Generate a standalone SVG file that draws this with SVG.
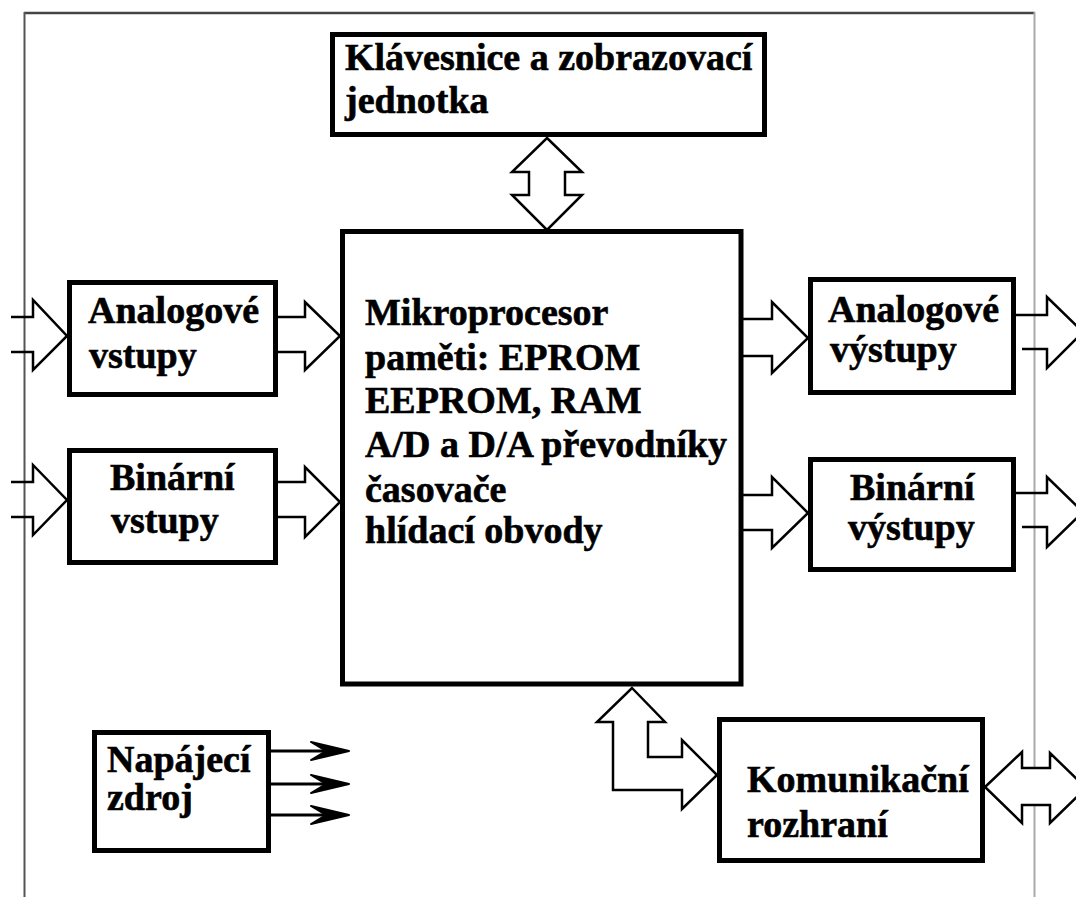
<svg xmlns="http://www.w3.org/2000/svg" width="1076" height="897" viewBox="0 0 1076 897">
<style>
.box{fill:#fff;stroke:#000;stroke-width:5}
.t{font-family:"Liberation Serif","Times New Roman",serif;font-weight:bold;font-size:38px;fill:#000;stroke:#000;stroke-width:0.6}
.ar{fill:none;stroke:#000;stroke-width:2.5;stroke-linejoin:miter}
.arf{fill:#fff;stroke:#000;stroke-width:2.5}
.pw{fill:none;stroke:#000;stroke-width:3}
.pwh{fill:#000;stroke:#000;stroke-width:2;stroke-linejoin:round}
</style>
<rect x="0" y="0" width="1076" height="897" fill="#fff"/>
<g id="frame">
<line x1="24" y1="13" x2="1035" y2="13" stroke="#444" stroke-width="2.5"/>
<line x1="24.5" y1="12" x2="24.5" y2="897" stroke="#555" stroke-width="2"/>
<line x1="1034.5" y1="12" x2="1034.5" y2="897" stroke="#aaa" stroke-width="2"/>
</g>
<g id="connectors">
<polygon class="arf" points="547,138 582,172 565,172 565,195 582,195 547,230 512,195 529,195 529,172 512,172"/>
<polyline class="ar" points="11,317 33,317 33,300 67,336 33,370 33,352 11,352"/>
<polyline class="ar" points="278,317 305,317 305,302 340,336 305,370 305,352 278,352"/>
<polyline class="ar" points="11,482 33,482 33,465 67,500 33,535 33,517 11,517"/>
<polyline class="ar" points="278,482 305,482 305,467 340,502 305,537 305,517 278,517"/>
<polyline class="ar" points="742,319 772,319 772,302 808,338 772,373 772,356 742,356"/>
<polyline class="ar" points="1016,315 1047,315 1047,297 1083,332 1047,368 1047,349 1022,349"/>
<polyline class="ar" points="742,495 772,495 772,477 808,513 772,548 772,530 742,530"/>
<polyline class="ar" points="1016,493 1047,493 1047,477 1083,512 1047,547 1047,527 1022,527"/>
<polygon class="arf" points="632,688 665,722 648,722 648,757 682,757 682,740 717,775 682,809 682,790 613,790 613,722 597,722"/>
<polygon class="arf" points="985,787 1022,752 1022,768 1050,768 1050,753 1086,788 1050,823 1050,805 1022,805 1022,823"/>
<line class="pw" x1="271" y1="751" x2="340" y2="751"/>
<line class="pw" x1="271" y1="784" x2="340" y2="784"/>
<line class="pw" x1="271" y1="815" x2="340" y2="815"/>
<polygon class="pwh" points="349,751 311,742 326,751 311,760"/>
<polygon class="pwh" points="349,784 311,775 326,784 311,793"/>
<polygon class="pwh" points="349,815 311,806 326,815 311,824"/>
</g>
<g id="klavesnice">
<rect class="box" x="332.5" y="34.5" width="432" height="100"/>
<text class="t" x="345" y="70">Klávesnice a zobrazovací</text>
<text class="t" x="345" y="113">jednotka</text>
</g>
<g id="mikroprocesor">
<rect class="box" x="342.5" y="231.5" width="398.5" height="452.5"/>
<text class="t" x="365" y="325">Mikroprocesor</text>
<text class="t" x="365" y="370">paměti: EPROM</text>
<text class="t" x="365" y="413">EEPROM, RAM</text>
<text class="t" x="365" y="457">A/D a D/A převodníky</text>
<text class="t" x="365" y="502">časovače</text>
<text class="t" x="365" y="543">hlídací obvody</text>
</g>
<g id="analog-vstupy">
<rect class="box" x="69.5" y="282.5" width="206" height="112"/>
<text class="t" x="88" y="323">Analogové</text>
<text class="t" x="89" y="368">vstupy</text>
</g>
<g id="binar-vstupy">
<rect class="box" x="69.5" y="450.5" width="206" height="112"/>
<text class="t" x="110" y="490">Binární</text>
<text class="t" x="111" y="533">vstupy</text>
</g>
<g id="analog-vystupy">
<rect class="box" x="810.5" y="279.5" width="203" height="113"/>
<text class="t" x="828" y="322">Analogové</text>
<text class="t" x="830" y="362">výstupy</text>
</g>
<g id="binar-vystupy">
<rect class="box" x="810.5" y="459.5" width="203" height="110"/>
<text class="t" x="850" y="500">Binární</text>
<text class="t" x="848" y="540">výstupy</text>
</g>
<g id="komunikacni">
<rect class="box" x="719.5" y="719.5" width="263" height="141"/>
<text class="t" x="747" y="792">Komunikační</text>
<text class="t" x="747" y="837">rozhraní</text>
</g>
<g id="napajeci">
<rect class="box" x="94.5" y="732.5" width="174" height="118"/>
<text class="t" x="107" y="772">Napájecí</text>
<text class="t" x="107" y="810">zdroj</text>
</g>
</svg>
